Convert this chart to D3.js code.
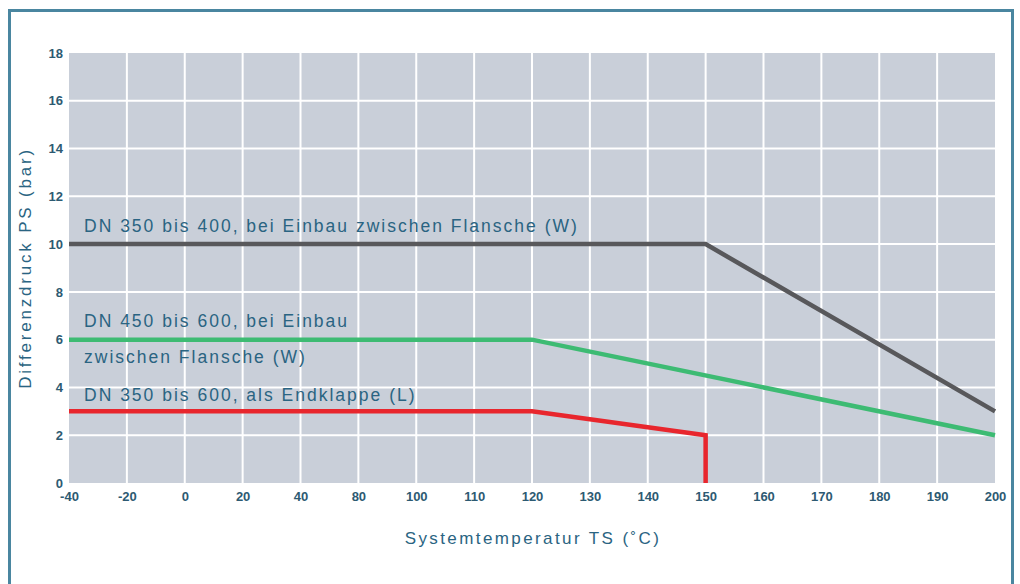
<!DOCTYPE html>
<html><head><meta charset="utf-8">
<script src="https://cdn.jsdelivr.net/npm/d3@7"></script>
<style>html,body{margin:0;padding:0;background:#fff;}svg{display:block;}</style>
</head><body>
<svg id="c" width="1020" height="584"></svg>
<script>
const categories = ["-40","-20","0","20","40","80","100","110","120","130","140","150","160","170","180","190","200"];
const yTicks = [0,2,4,6,8,10,12,14,16,18];
const seriesBlack = [["-40",10],["150",10],["200",3]];
const seriesGreen = [["-40",6],["120",6],["200",2]];
const seriesRed = [["-40",3],["120",3],["150",2],["150",0]];
const labels = [
  {text:"DN 350 bis 400, bei Einbau zwischen Flansche (W)", cat:"-40", v:10.75},
  {text:"DN 450 bis 600, bei Einbau", cat:"-40", v:6.8},
  {text:"zwischen Flansche (W)", cat:"-40", v:5.3},
  {text:"DN 350 bis 600, als Endklappe (L)", cat:"-40", v:3.7}
];
const xTitle = "Systemtemperatur TS (˚C)";
const yTitle = "Differenzdruck PS (bar)";

const svg = d3.select("#c");
const L=69, R=995, T=53, B=483;
const x = d3.scalePoint().domain(categories).range([L,R]);
const y = d3.scaleLinear().domain([0,18]).range([B,T]);
const font = "'Liberation Sans', Arial, sans-serif";
const txtCol = "#2a6482";

// frame
svg.append("rect").attr("x",9.5).attr("y",10.5).attr("width",1003).attr("height",590)
  .attr("fill","none").attr("stroke","#4a86a0").attr("stroke-width",3);

// plot bg
svg.append("rect").attr("x",L).attr("y",T).attr("width",R-L).attr("height",B-T).attr("fill","#c9cfd9");

// grid
svg.append("g").selectAll("line").data(yTicks.filter(d=>d>0&&d<18)).join("line")
  .attr("x1",L).attr("x2",R).attr("y1",d=>y(d)).attr("y2",d=>y(d))
  .attr("stroke","#fff").attr("stroke-width",2);
svg.append("g").selectAll("line").data(categories.slice(1,-1)).join("line")
  .attr("x1",d=>x(d)).attr("x2",d=>x(d)).attr("y1",T).attr("y2",B)
  .attr("stroke","#fff").attr("stroke-width",2);

// axes
const xAxis = d3.axisBottom(x).tickSize(0).tickPadding(9);
const gx = svg.append("g").attr("transform",`translate(0,${B})`).call(xAxis);
gx.select(".domain").remove();
gx.selectAll("text").attr("font-family",font).attr("font-size",13).attr("font-weight","bold").attr("fill","#2d5a72");
const yAxis = d3.axisLeft(y).tickValues(yTicks).tickSize(0).tickPadding(6);
const gy = svg.append("g").attr("transform",`translate(${L},0)`).call(yAxis);
gy.select(".domain").remove();
gy.selectAll("text").attr("font-family",font).attr("font-size",13).attr("font-weight","bold").attr("fill","#2d5a72");

// lines
const line = d3.line().x(d=>x(d[0])).y(d=>y(d[1]));
svg.append("path").datum(seriesBlack).attr("d",line).attr("fill","none").attr("stroke","#58585b").attr("stroke-width",4.5);
svg.append("path").datum(seriesGreen).attr("d",line).attr("fill","none").attr("stroke","#3dbb73").attr("stroke-width",4.5);
svg.append("path").datum(seriesRed).attr("d",line).attr("fill","none").attr("stroke","#e8262d").attr("stroke-width",4.5);

// labels
svg.append("g").selectAll("text").data(labels).join("text")
  .attr("x",d=>x(d.cat)+15).attr("y",d=>y(d.v)).attr("dy","0.35em")
  .attr("font-family",font).attr("font-size",17.5).attr("letter-spacing",2).attr("fill",txtCol).text(d=>d.text);

// titles
svg.append("text").attr("x",533).attr("y",544).attr("text-anchor","middle")
  .attr("font-family",font).attr("font-size",17).attr("letter-spacing",2.4).attr("fill",txtCol).text(xTitle);
svg.append("text").attr("transform",`translate(31,${(T+B)/2}) rotate(-90)`).attr("text-anchor","middle")
  .attr("font-family",font).attr("font-size",17).attr("letter-spacing",2.8).attr("fill",txtCol).text(yTitle);
</script>
</body></html>
